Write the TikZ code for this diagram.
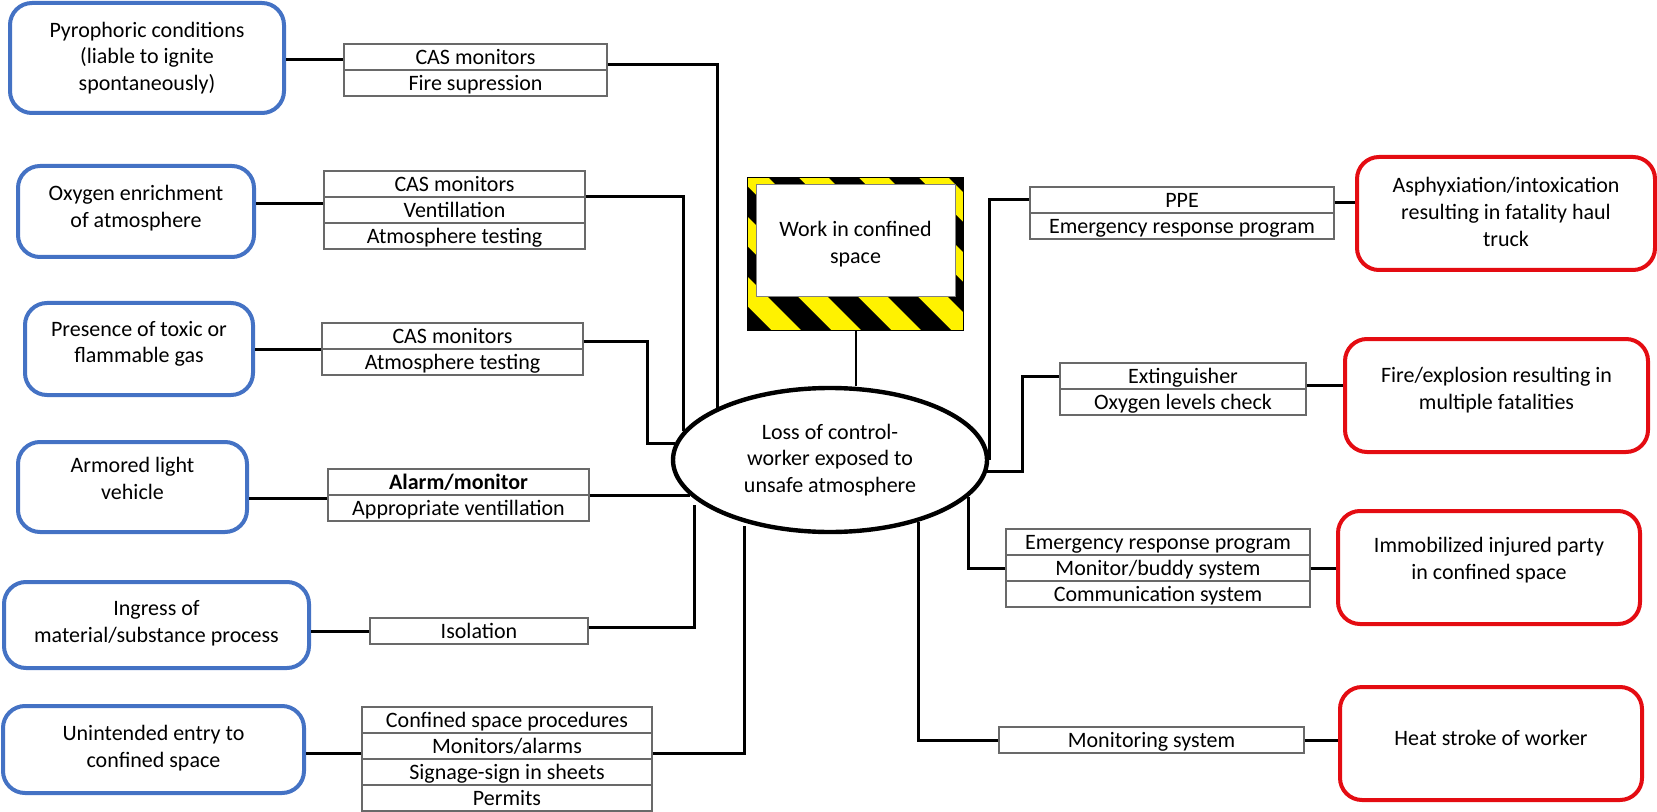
\documentclass[tikz,border=0pt]{standalone}
\usepackage{fontspec}
\setmainfont{Carlito}
\usetikzlibrary{shapes.geometric}

\definecolor{threatblue}{RGB}{68,114,196}
\definecolor{conseqred}{RGB}{228,12,18}
\definecolor{ctrlgray}{RGB}{105,105,105}
\definecolor{hazyellow}{RGB}{255,242,0}

\begin{document}
\begin{tikzpicture}[x=0.5pt, y=-0.5pt,
  every node/.style={font=\fontsize{11}{13.4}\selectfont},
  lbl/.style={align=center, inner sep=0pt},
  threat/.style={draw=threatblue, line width=2pt, rounded corners=11pt, inner sep=0pt},
  conseq/.style={draw=conseqred, line width=2pt, rounded corners=11pt, inner sep=0pt},
  ctrl/.style={draw=ctrlgray, line width=0.6pt, minimum height=13pt, inner sep=0pt,
               text height=9.4pt, text depth=2.2pt},
  conn/.style={draw=black, line width=1.5pt},
]
\useasboundingbox (0,0) rectangle (1657,812);

% ---------- threats (left) ----------
\node[threat, minimum width=137pt, minimum height=55pt,
      label={[lbl]center:{Pyrophoric conditions\\(liable to ignite\\spontaneously)}}] (t1) at (147,58) {};
\node[threat, minimum width=118pt, minimum height=45.5pt,
      label={[lbl, yshift=1.6pt]center:{Oxygen enrichment\\of atmosphere}}] (t2) at (136,211.5) {};
\node[threat, minimum width=114pt, minimum height=46pt,
      label={[lbl, yshift=2.6pt]center:{Presence of toxic or\\flammable gas}}] (t3) at (139,349) {};
\node[threat, minimum width=114.5pt, minimum height=45pt,
      label={[lbl, yshift=4.2pt]center:{Armored light\\vehicle}}] (t4) at (132.5,487) {};
\node[threat, minimum width=152.5pt, minimum height=43pt,
      label={[lbl, yshift=0.8pt]center:{Ingress of\\material/substance process}}] (t5) at (156.5,625) {};
\node[threat, minimum width=150.5pt, minimum height=43.5pt,
      label={[lbl, yshift=0.8pt]center:{Unintended entry to\\confined space}}] (t6) at (153.5,749.5) {};

% ---------- consequences (right) ----------
\node[conseq, minimum width=149pt, minimum height=56.5pt,
      label={[lbl, yshift=0.8pt]center:{Asphyxiation/intoxication\\resulting in fatality haul\\truck}}] (r1) at (1506,213.5) {};
\node[conseq, minimum width=151.5pt, minimum height=56.5pt,
      label={[lbl, yshift=2.8pt]center:{Fire/explosion resulting in\\multiple fatalities}}] (r2) at (1496.5,395.5) {};
\node[conseq, minimum width=151pt, minimum height=56.5pt,
      label={[lbl, yshift=3.7pt]center:{Immobilized injured party\\in confined space}}] (r3) at (1489,567.5) {};
\node[conseq, minimum width=151pt, minimum height=56.5pt,
      label={[lbl, yshift=2.6pt]center:{Heat stroke of worker}}] (r4) at (1491,743.5) {};

% ---------- preventive barriers ----------
\node[ctrl, minimum width=131.5pt] (b1a) at (475.5,57) {CAS monitors};
\node[ctrl, minimum width=131.5pt] (b1b) at (475.5,83) {Fire supression};

\node[ctrl, minimum width=130.5pt] (b2a) at (454.5,184) {CAS monitors};
\node[ctrl, minimum width=130.5pt] (b2b) at (454.5,210) {Ventillation};
\node[ctrl, minimum width=130.5pt] (b2c) at (454.5,236) {Atmosphere testing};

\node[ctrl, minimum width=130.5pt] (b3a) at (452.5,336) {CAS monitors};
\node[ctrl, minimum width=130.5pt] (b3b) at (452.5,362) {Atmosphere testing};

\node[ctrl, minimum width=130.5pt] (b4a) at (458.5,482) {\bfseries Alarm/monitor};
\node[ctrl, minimum width=130.5pt] (b4b) at (458.5,508) {Appropriate ventillation};

\node[ctrl, minimum width=109pt] (b5) at (479,631) {Isolation};

\node[ctrl, minimum width=145pt] (b6a) at (507,720) {Confined space procedures};
\node[ctrl, minimum width=145pt] (b6b) at (507,746) {Monitors/alarms};
\node[ctrl, minimum width=145pt] (b6c) at (507,772) {Signage-sign in sheets};
\node[ctrl, minimum width=145pt] (b6d) at (507,798) {Permits};

% ---------- mitigating barriers ----------
\node[ctrl, minimum width=152pt] (b7a) at (1182,200) {PPE};
\node[ctrl, minimum width=152pt] (b7b) at (1182,226) {Emergency response program};

\node[ctrl, minimum width=123pt] (b8a) at (1183,376) {Extinguisher};
\node[ctrl, minimum width=123pt] (b8b) at (1183,402) {Oxygen levels check};

\node[ctrl, minimum width=152pt] (b9a) at (1158,542) {Emergency response program};
\node[ctrl, minimum width=152pt] (b9b) at (1158,568) {Monitor/buddy system};
\node[ctrl, minimum width=152pt] (b9c) at (1158,594) {Communication system};

\node[ctrl, minimum width=152.5pt] (b10) at (1151.5,740) {Monitoring system};

% ---------- top event ----------
\node[ellipse, draw, line width=2.2pt, fill=white, minimum width=157pt, minimum height=72pt,
      inner sep=0pt, align=center] (el) at (830,460)
      {Loss of control-\\worker exposed to\\unsafe atmosphere};

% ---------- hazard sign with warning stripes ----------
\node[minimum width=107.5pt, minimum height=76pt, inner sep=0pt] (sign) at (855.5,254) {};
\begin{scope}
  \clip (sign.north west) rectangle (sign.south east);
  \fill[hazyellow] (sign.north west) rectangle (sign.south east);
  \foreach \k in {-6,...,4}
    \fill[black] ({741+60*\k},150) -- ({771+60*\k},150) -- ({981+60*\k},360) -- ({951+60*\k},360) -- cycle;
\end{scope}
\draw[line width=0.6pt] (sign.north west) rectangle (sign.south east);
\node[draw=gray, line width=0.5pt, fill=white, minimum width=99.5pt, minimum height=56pt,
      inner sep=0pt, label={[lbl, yshift=-1.4pt]center:{Work in confined\\space}}] (signtxt) at (855.5,241) {};
\draw[line width=1pt] (sign.south) -- (sign.south |- el.north);

% ---------- threat to barrier links ----------
\draw[conn] (t1.east |- 0,60)  -- (b1a.west |- 0,60);
\draw[conn] (t2.east |- 0,204) -- (b2a.west |- 0,204);
\draw[conn] (t3.east |- 0,349) -- (b3a.west |- 0,349);
\draw[conn] (t4.east |- 0,498) -- (b4a.west |- 0,498);
\draw[conn] (t5.east |- 0,631) -- (b5.west |- 0,631);
\draw[conn] (t6.east |- 0,753) -- (b6a.west |- 0,753);

% ---------- barrier to top event links ----------
\draw[conn] (b1a.east |- 0,65)  -| (el.155);
\draw[conn] (b2a.east |- 0,197) -| (el.169);
\draw[conn] (b3a.east |- 0,341) -- (647,341) |- (el.174);
\draw[conn] (b4a.east |- el.194) -- (el.194);
\draw[conn, shorten >=3pt] (b5.east |- 0,627) -| (el.196);
\draw[conn, shorten >=2pt] (b6a.east |- 0,753) -| (el.216);

% ---------- top event to mitigation links ----------
\draw[conn] (el.east) |- (b7a.west);
\draw[conn] (el.356) -- ++(35,0) |- (b8a.west);
\draw[conn] (el.345) |- (b9b.west);
\draw[conn] (el.325) |- (b10.west);

% ---------- mitigation to consequence links ----------
\draw[conn] (b7a.east |- 0,203) -- (r1.west |- 0,203);
\draw[conn] (b8a.east |- 0,385) -- (r2.west |- 0,385);
\draw[conn] (b9b.east) -- (b9b.east -| r3.west);
\draw[conn] (b10.east) -- (b10.east -| r4.west);
\end{tikzpicture}
\end{document}
